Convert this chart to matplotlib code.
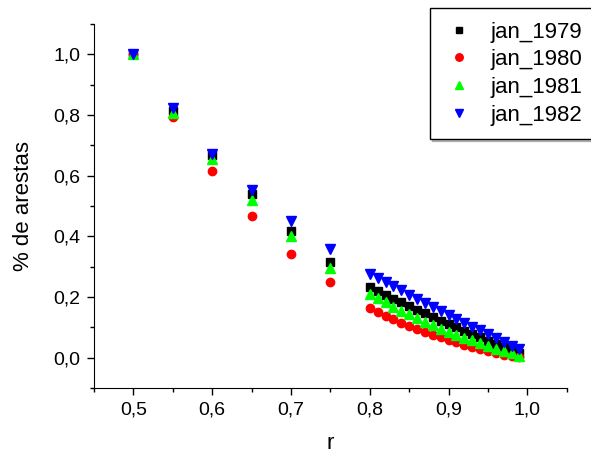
import numpy as np
import matplotlib.pyplot as plt
from matplotlib.ticker import MultipleLocator, FuncFormatter

plt.rcParams['font.family'] = ['Liberation Sans', 'DejaVu Sans']

r = np.array([0.50, 0.55, 0.60, 0.65, 0.70, 0.75,
              0.80, 0.81, 0.82, 0.83, 0.84, 0.85, 0.86, 0.87, 0.88, 0.89,
              0.90, 0.91, 0.92, 0.93, 0.94, 0.95, 0.96, 0.97, 0.98, 0.99])

jan_1979 = np.array([1.000, 0.814, 0.668, 0.538, 0.417, 0.315,
                     0.232, 0.219, 0.207, 0.194, 0.182, 0.170, 0.158, 0.146, 0.134, 0.122,
                     0.111, 0.100, 0.089, 0.078, 0.067, 0.056, 0.046, 0.036, 0.025, 0.014])
jan_1980 = np.array([1.000, 0.795, 0.616, 0.467, 0.343, 0.248,
                     0.165, 0.151, 0.138, 0.127, 0.115, 0.105, 0.095, 0.085, 0.076, 0.067,
                     0.058, 0.050, 0.043, 0.035, 0.028, 0.022, 0.016, 0.010, 0.006, 0.002])
jan_1981 = np.array([1.000, 0.805, 0.654, 0.519, 0.400, 0.295,
                     0.209, 0.196, 0.182, 0.168, 0.155, 0.143, 0.131, 0.119, 0.107, 0.096,
                     0.086, 0.076, 0.066, 0.057, 0.048, 0.039, 0.030, 0.022, 0.014, 0.007])
jan_1982 = np.array([1.000, 0.823, 0.673, 0.553, 0.451, 0.358,
                     0.275, 0.262, 0.249, 0.235, 0.222, 0.208, 0.195, 0.181, 0.167, 0.153,
                     0.140, 0.127, 0.115, 0.102, 0.090, 0.078, 0.066, 0.053, 0.040, 0.027])

fig = plt.figure(figsize=(5.91, 4.54), dpi=100)
ax = fig.add_axes([0.159, 0.1454, 0.800, 0.8017])

ax.plot(r, jan_1979, 's', color='black', ms=5.2, label='jan_1979')
ax.plot(r, jan_1980, 'o', color='red', ms=6, label='jan_1980')
ax.plot(r, jan_1981, '^', color='#00ff00', ms=6.5, label='jan_1981')
ax.plot(r, jan_1982, 'v', color='blue', ms=6.5, label='jan_1982')

ax.set_xlim(0.45, 1.05)
ax.set_ylim(-0.1, 1.1)
ax.xaxis.set_major_locator(MultipleLocator(0.1))
ax.xaxis.set_minor_locator(MultipleLocator(0.05))
ax.yaxis.set_major_locator(MultipleLocator(0.2))
ax.yaxis.set_minor_locator(MultipleLocator(0.1))
virgula = FuncFormatter(lambda v, p: f'{v:.1f}'.replace('.', ',').replace('-0,0', '0,0'))
ax.xaxis.set_major_formatter(virgula)
ax.yaxis.set_major_formatter(virgula)

for s in ['top', 'right']:
    ax.spines[s].set_visible(False)
ax.tick_params(which='major', direction='out', length=5, width=1, labelsize=14, pad=5)
ax.tick_params(which='minor', direction='out', length=3, width=1)

ax.set_xlabel('r', fontsize=16)
ax.set_ylabel('% de arestas', fontsize=16)
ax.xaxis.set_label_coords(0.5, -0.125)
ax.yaxis.set_label_coords(-0.127, 0.5)

leg = fig.legend(loc='upper left', bbox_to_anchor=(0.728, 0.982), fontsize=16,
                 frameon=True, fancybox=False,
                 shadow={'ox': 1.3, 'oy': -1.3, 'shade': 0.5},
                 borderpad=0.6, borderaxespad=0, handletextpad=0.75,
                 labelspacing=0.3, handlelength=1.35, markerscale=0.9)
leg.get_frame().set_edgecolor('black')
leg.get_frame().set_linewidth(1)

fig.savefig('out.png', dpi=100)
